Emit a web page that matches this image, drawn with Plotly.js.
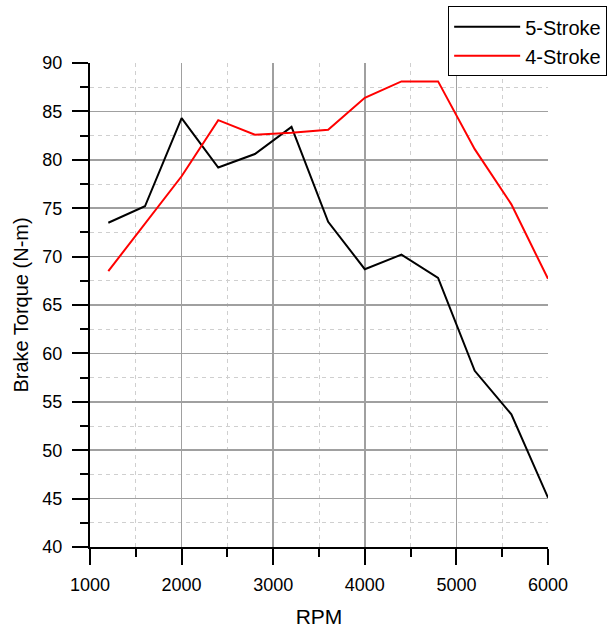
<!DOCTYPE html>
<html>
<head>
<meta charset="utf-8">
<script src="https://cdn.plot.ly/plotly-3.0.1.min.js"></script>
<style>html,body{margin:0;padding:0;background:#fff;}#chart{width:616px;height:630px;}</style>
</head>
<body>
<div id="chart"></div>
<script>
const rpm = [1200, 1600, 2000, 2400, 2800, 3200, 3600, 4000, 4400, 4800, 5200, 5600, 6000];
const torque5 = [73.5, 75.2, 84.3, 79.2, 80.6, 83.4, 73.6, 68.7, 70.2, 67.8, 58.2, 53.7, 45.1];
const torque4 = [68.5, 73.4, 78.3, 84.1, 82.6, 82.8, 83.1, 86.4, 88.1, 88.1, 81.1, 75.4, 67.7];
const seriesNames = ["5-Stroke", "4-Stroke"];
const majorGridX = [2000, 3000, 4000, 5000];
const majorGridY = [45, 50, 55, 60, 65, 70, 75, 80, 85];

const fontFam = "Liberation Sans, Arial, sans-serif";
const traces = [
  {x: rpm, y: torque5, name: seriesNames[0], type: "scatter", mode: "lines",
   line: {color: "#000000", width: 2}},
  {x: rpm, y: torque4, name: seriesNames[1], type: "scatter", mode: "lines",
   line: {color: "#ff0000", width: 2}},
  {x: [], y: [], xaxis: "x2", yaxis: "y2", type: "scatter", mode: "lines",
   showlegend: false, hoverinfo: "skip"}
];
const gridMajor = {showgrid: true, gridcolor: "#a0a0a0", gridwidth: 1.5,
  showticklabels: false, ticks: "", showline: false, zeroline: false};
const layout = {
  width: 616, height: 630,
  margin: {l: 89.5, r: 68, t: 63, b: 82.5, autoexpand: false},
  paper_bgcolor: "#ffffff", plot_bgcolor: "#ffffff",
  font: {family: fontFam, color: "#000"},
  showlegend: true,
  legend: {x: 0.782, y: 1.117, xanchor: "left", yanchor: "top",
           bordercolor: "#000", borderwidth: 1, bgcolor: "#fff",
           font: {size: 20, family: fontFam}, tracegroupgap: 0, itemwidth: 66},
  xaxis: {
    range: [1000, 6000], dtick: 1000, tick0: 1000,
    showline: true, linecolor: "#000", linewidth: 2,
    ticks: "outside", ticklen: 16, tickwidth: 2, tickcolor: "#000",
    showgrid: false, zeroline: false,
    tickfont: {size: 18, family: fontFam}, ticklabelstandoff: 4,
    title: {text: "RPM", font: {size: 21, family: fontFam}, standoff: 16},
    minor: {dtick: 500, tick0: 1000, ticks: "outside", ticklen: 8, tickwidth: 2, tickcolor: "#000",
            showgrid: true, gridcolor: "#cfcfcf", gridwidth: 1, griddash: "4px,4px"}
  },
  yaxis: {
    range: [40, 90], dtick: 5, tick0: 40,
    showline: true, linecolor: "#000", linewidth: 2,
    ticks: "outside", ticklen: 16, tickwidth: 2, tickcolor: "#000",
    showgrid: false, zeroline: false,
    tickfont: {size: 18, family: fontFam}, ticklabelstandoff: 6,
    title: {text: "Brake Torque (N-m)", font: {size: 20, family: fontFam}, standoff: 8},
    minor: {dtick: 2.5, tick0: 40, ticks: "outside", ticklen: 8, tickwidth: 2, tickcolor: "#000",
            showgrid: true, gridcolor: "#cfcfcf", gridwidth: 1, griddash: "4px,4px"}
  },
  xaxis2: Object.assign({overlaying: "x", anchor: "y2", range: [1000, 6000],
    tickmode: "array", tickvals: majorGridX}, gridMajor),
  yaxis2: Object.assign({overlaying: "y", anchor: "x2", range: [40, 90],
    tickmode: "array", tickvals: majorGridY}, gridMajor)
};
Plotly.newPlot("chart", traces, layout, {displayModeBar: false, staticPlot: true});
</script>
</body>
</html>
